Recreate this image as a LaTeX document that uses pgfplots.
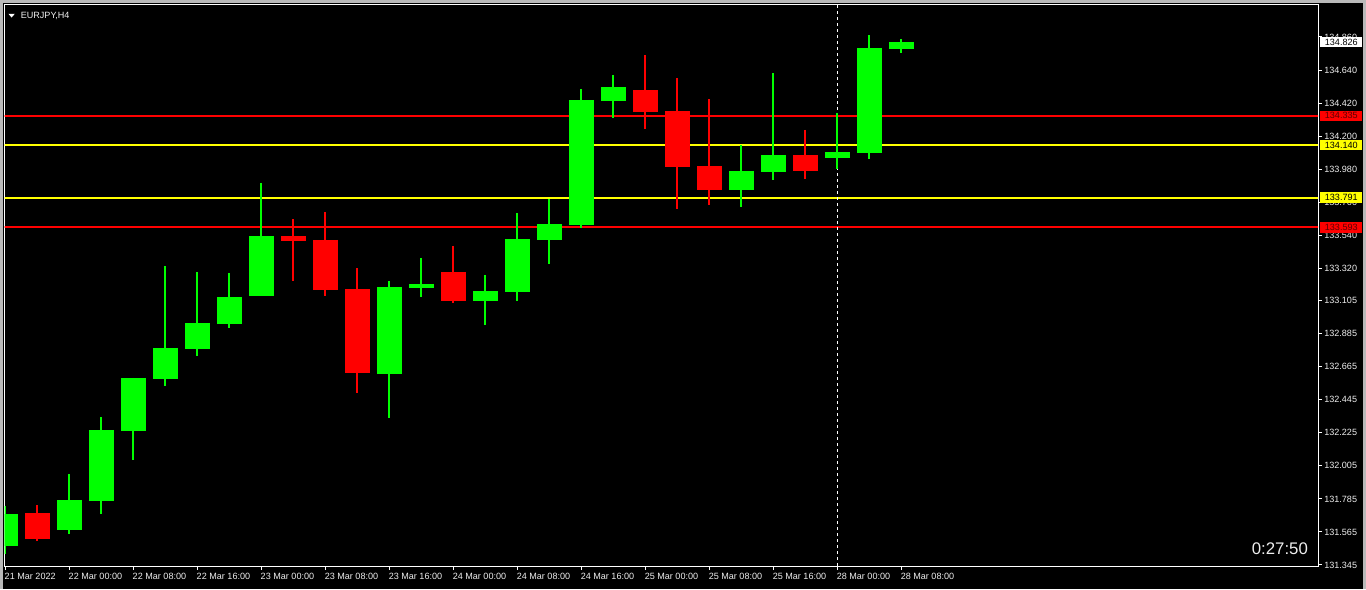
\documentclass[border=0pt]{standalone}
\usepackage{fontspec}
\setmainfont{Liberation Sans}
\usepackage{pgfplots}
\usepackage{pgfplotstable}
\pgfplotsset{compat=1.18}
\definecolor{mtgreen}{RGB}{0,255,0}
\definecolor{mtred}{RGB}{255,0,0}
\definecolor{mtyellow}{RGB}{255,255,0}
\definecolor{lbl}{RGB}{238,238,238}
\definecolor{darkred}{RGB}{90,0,0}

\pgfplotstableread{
i o h l c
0 131.472 131.738 131.418 131.685
2 131.578 131.951 131.551 131.778
3 131.771 132.330 131.685 132.244
4 132.237 132.590 132.044 132.590
5 132.583 133.335 132.537 132.790
6 132.783 133.296 132.736 132.956
7 132.949 133.289 132.923 133.129
8 133.136 133.888 133.136 133.535
12 132.617 133.236 132.324 133.196
13 133.189 133.389 133.129 133.216
15 133.102 133.276 132.943 133.169
16 133.162 133.688 133.102 133.515
17 133.509 133.782 133.349 133.615
18 133.608 134.514 133.588 134.441
19 134.434 134.607 134.321 134.527
23 133.841 134.141 133.728 133.968
24 133.961 134.620 133.908 134.074
26 134.054 134.354 133.981 134.094
27 134.088 134.873 134.048 134.787
28 134.780 134.847 134.753 134.826
}\greentab

\pgfplotstableread{
i o h l c
1 131.691 131.744 131.505 131.518
9 133.535 133.648 133.236 133.502
10 133.509 133.695 133.136 133.176
11 133.182 133.322 132.490 132.623
14 133.296 133.469 133.089 133.102
20 134.507 134.740 134.248 134.361
21 134.367 134.587 133.715 133.995
22 134.001 134.447 133.742 133.841
25 134.074 134.241 133.915 133.968
}\redtab

\newcommand{\lblfont}{\fontsize{6.8pt}{8pt}\selectfont}

\begin{document}
\begin{tikzpicture}
\fill[black] (0,0) rectangle (1024.5pt,441.75pt);
\useasboundingbox (0,0) rectangle (1024.5pt,441.75pt);
\fill[gray!55] (0,439.5pt) rectangle (1024.5pt,441.75pt);
\fill[gray!55] (0,0) rectangle (2.25pt,441.75pt);
\fill[gray!55] (1022.6pt,0) rectangle (1024.5pt,441.75pt);
\begin{axis}[
  at={(3.375pt,17.25pt)}, anchor=south west,
  scale only axis, width=985.125pt, height=421.125pt,
  xmin=-0.016, xmax=41.031,
  ymin=131.3383, ymax=135.0763,
  axis line style={white, line width=0.75pt},
  tick style={white, line width=0.75pt},
  tick align=outside, major tick length=3pt,
  xtick pos=bottom, ytick pos=right, yticklabel pos=right,
  xtick={0,2,4,6,8,10,12,14,16,18,20,22,24,26,28},
  xticklabels={21 Mar 2022, 22 Mar 00:00, 22 Mar 08:00, 22 Mar 16:00, 23 Mar 00:00, 23 Mar 08:00, 23 Mar 16:00, 24 Mar 00:00, 24 Mar 08:00, 24 Mar 16:00, 25 Mar 00:00, 25 Mar 08:00, 25 Mar 16:00, 28 Mar 00:00, 28 Mar 08:00},
  xticklabel style={anchor=north west, inner sep=0pt, font=\lblfont, text=lbl, xshift=-0.4pt, yshift=-2pt},
  ytick={131.345,131.565,131.785,132.005,132.225,132.445,132.665,132.885,133.105,133.320,133.540,133.760,133.980,134.200,134.420,134.640,134.860},
  yticklabels={131.345,131.565,131.785,132.005,132.225,132.445,132.665,132.885,133.105,133.320,133.540,133.760,133.980,134.200,134.420,134.640,134.860},
  yticklabel style={anchor=west, inner sep=0pt, font=\lblfont, text=lbl, xshift=1.5pt},
  clip=true,
  candle/.style={draw=none, mark=none, error bars/.cd, y dir=minus, y explicit, error mark=none},
]
% level lines
\addplot[mtred, line width=1.5pt] coordinates {(-1,134.335) (42,134.335)};
\addplot[mtyellow, line width=1.5pt] coordinates {(-1,134.140) (42,134.140)};
\addplot[mtyellow, line width=1.5pt] coordinates {(-1,133.791) (42,133.791)};
\addplot[mtred, line width=1.5pt] coordinates {(-1,133.593) (42,133.593)};
% current-session separator
\addplot[white, line width=0.75pt, dash pattern=on 2.25pt off 2.25pt] coordinates {(26,131.3383) (26,135.0763)};
% wicks
\addplot[candle, error bar style={draw=mtgreen, line width=1pt}]
  table[x=i, y=h, y error minus expr={\thisrow{h}-\thisrow{l}}] {\greentab};
\addplot[candle, error bar style={draw=mtred, line width=1pt}]
  table[x=i, y=h, y error minus expr={\thisrow{h}-\thisrow{l}}] {\redtab};
% bodies
\addplot[candle, error bar style={draw=mtgreen, line width=18.75pt}]
  table[x=i, y=c, y error minus expr={\thisrow{c}-\thisrow{o}}] {\greentab};
\addplot[candle, error bar style={draw=mtred, line width=18.75pt}]
  table[x=i, y=o, y error minus expr={\thisrow{o}-\thisrow{c}}] {\redtab};
\coordinate (P1) at (axis cs:41.031,134.826);
\coordinate (P2) at (axis cs:41.031,134.335);
\coordinate (P3) at (axis cs:41.031,134.140);
\coordinate (P4) at (axis cs:41.031,133.791);
\coordinate (P5) at (axis cs:41.031,133.593);
\coordinate (T) at (axis cs:39.84,131.4515);
\end{axis}
\tikzset{pl/.style={anchor=west, xshift=1.5pt, minimum width=31.5pt, minimum height=7.9pt, inner sep=0pt, font=\lblfont}}
\node[pl, fill=white, text=black] at (P1) {134.826};
\node[pl, fill=mtred, text=darkred] at (P2) {134.335};
\node[pl, fill=mtyellow, text=black] at (P3) {134.140};
\node[pl, fill=mtyellow, text=black] at (P4) {133.791};
\node[pl, fill=mtred, text=darkred] at (P5) {133.593};
\node[text=lbl, font=\fontsize{12.6pt}{14pt}\selectfont, inner sep=0pt] at (T) {0:27:50};
\fill[white] (6.3pt,431.4pt) -- (11.1pt,431.4pt) -- (8.7pt,428.6pt) -- cycle;
\node[anchor=west, text=lbl, font=\lblfont, inner sep=0pt] at (15.4pt,430pt) {EURJPY,H4};
\end{tikzpicture}
\end{document}
